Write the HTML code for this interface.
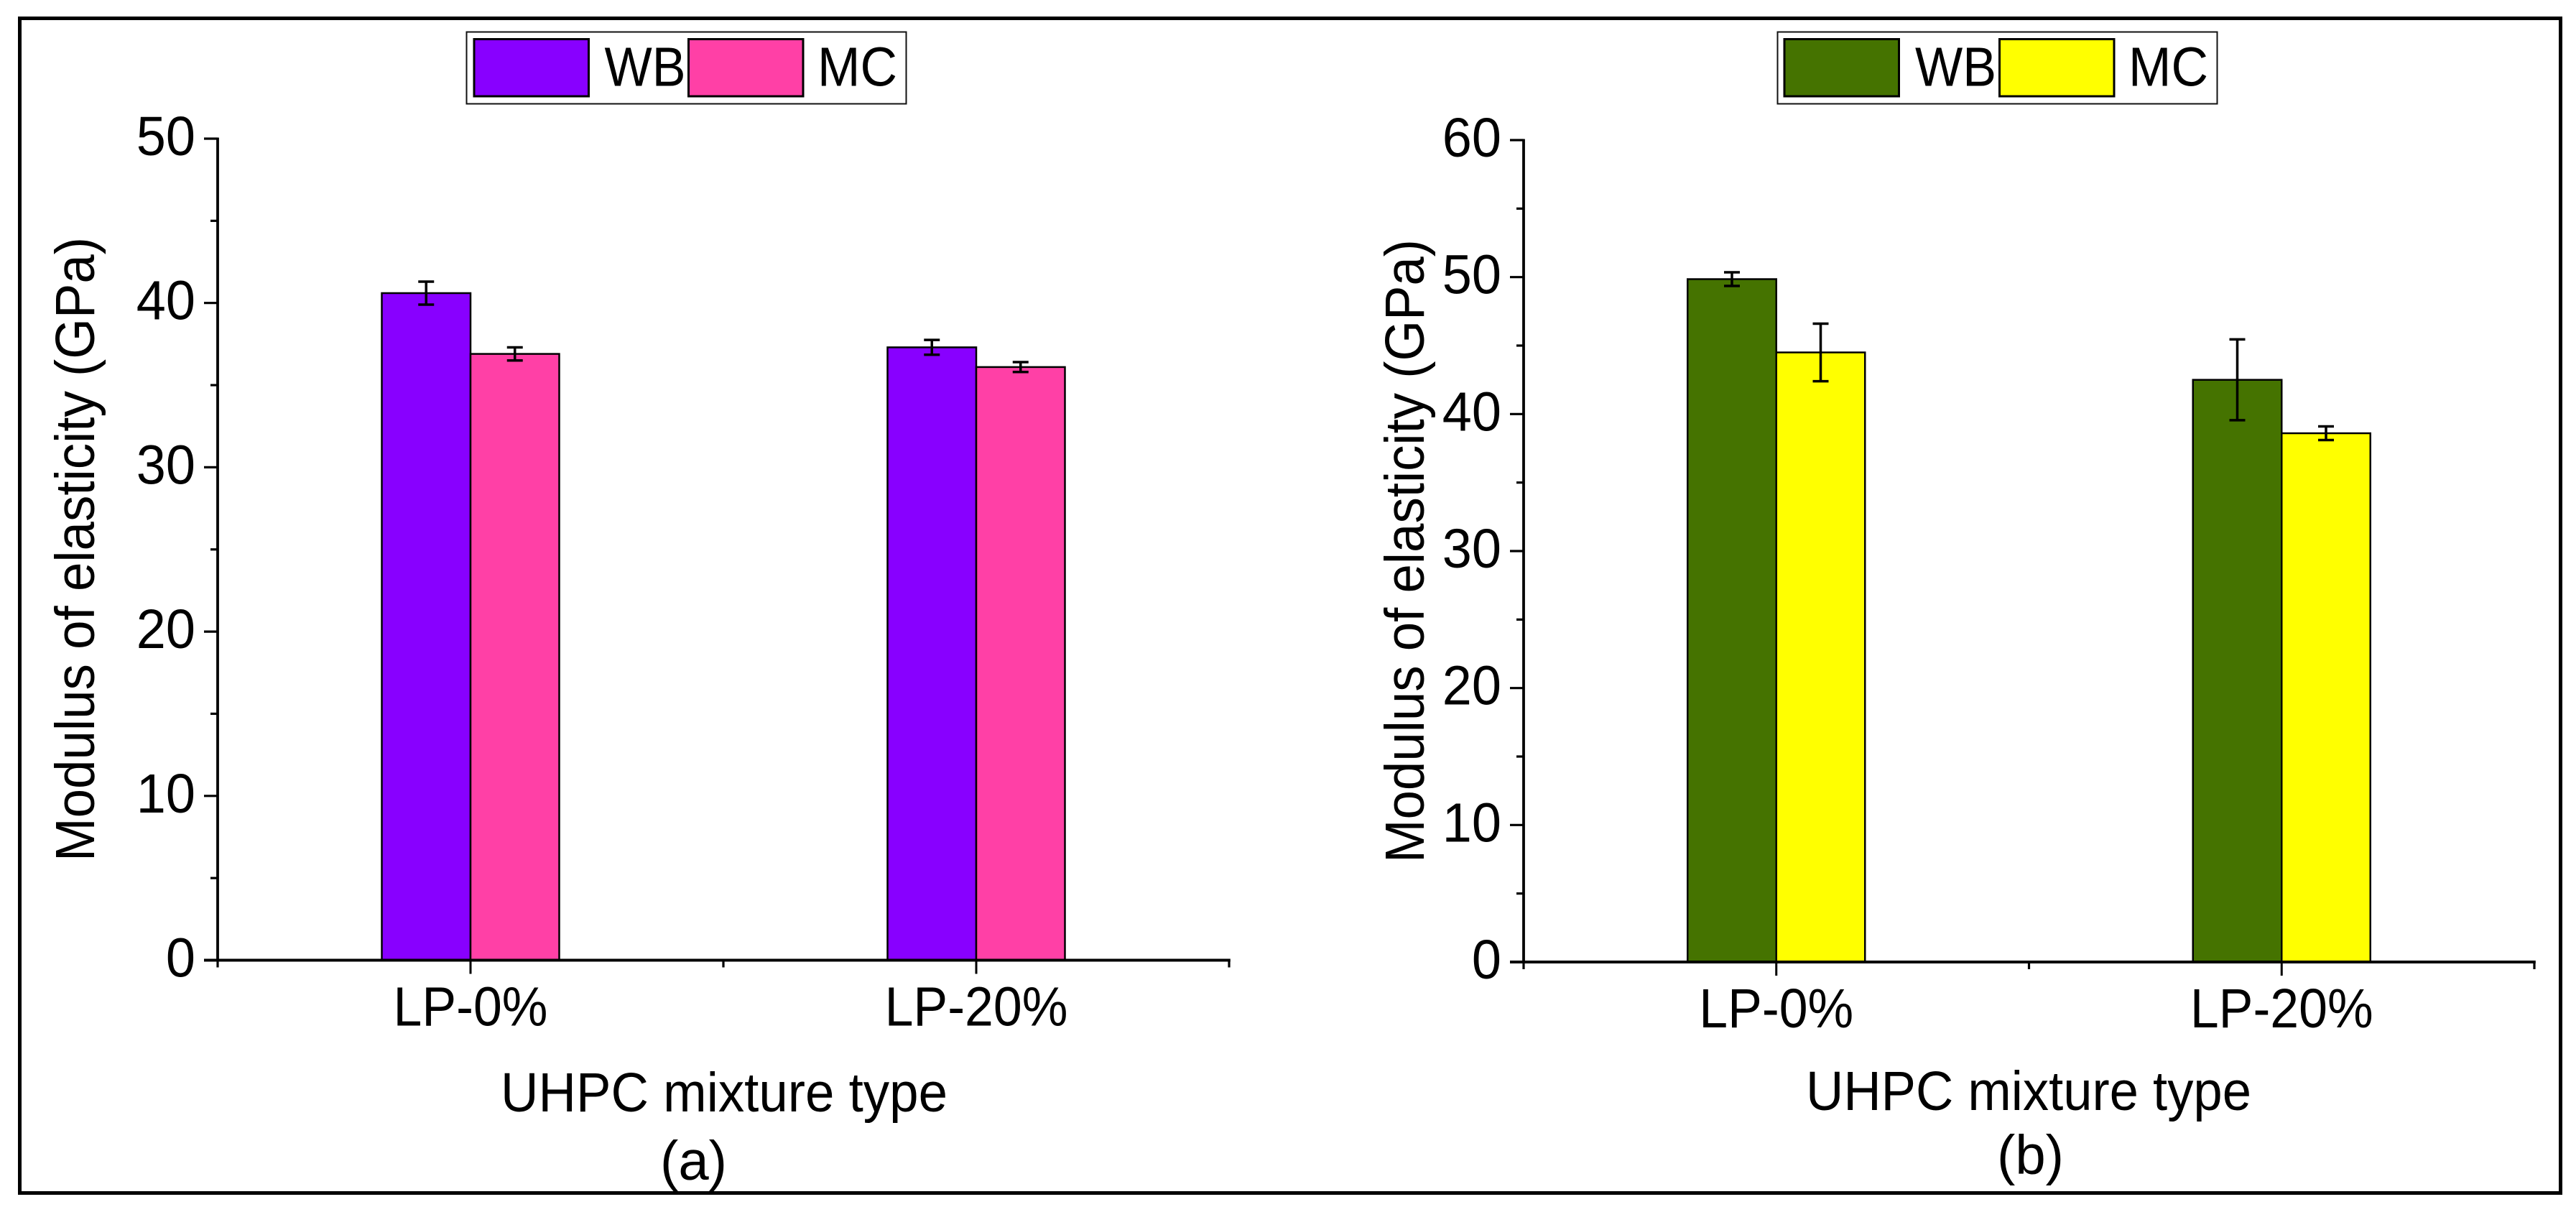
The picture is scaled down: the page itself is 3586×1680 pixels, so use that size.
<!DOCTYPE html>
<html lang="en">
<head>
<meta charset="utf-8">
<title>Modulus of elasticity of UHPC mixtures</title>
<style>
html,body{margin:0;padding:0;background:#fff;width:3586px;height:1680px;overflow:hidden}
svg{display:block}
text{font-family:"Liberation Sans",sans-serif;font-size:77px;fill:#000}
</style>
</head>
<body>
<svg id="figure" xmlns="http://www.w3.org/2000/svg" width="3586" height="1680" viewBox="0 0 3586 1680">
  <rect x="0" y="0" width="3586" height="1680" fill="#fff"/>
  <rect x="27.5" y="25.5" width="3537" height="1635" fill="none" stroke="#000" stroke-width="5"/>

  <g id="panel-a"></g>
  <g id="panel-b"></g>

  <g>
    <rect x="649.5" y="44.5" width="612" height="100" fill="#fff" stroke="#111" stroke-width="2"/>
    <rect x="660" y="54.5" width="159.5" height="79.5" fill="#8800ff" stroke="#000" stroke-width="3"/>
    <text x="841.5" y="119.5" textLength="113" lengthAdjust="spacingAndGlyphs">WB</text>
    <rect x="958.5" y="54.5" width="159.5" height="79.5" fill="#ff40a6" stroke="#000" stroke-width="3"/>
    <text x="1138" y="119.5" textLength="111" lengthAdjust="spacingAndGlyphs">MC</text>
  </g>
  <g>
    <rect x="2474.5" y="44.5" width="612" height="100" fill="#fff" stroke="#111" stroke-width="2"/>
    <rect x="2484" y="54.5" width="159.5" height="79.5" fill="#457300" stroke="#000" stroke-width="3"/>
    <text x="2666" y="119.5" textLength="113" lengthAdjust="spacingAndGlyphs">WB</text>
    <rect x="2783.5" y="54.5" width="159.5" height="79.5" fill="#ffff00" stroke="#000" stroke-width="3"/>
    <text x="2963" y="119.5" textLength="111" lengthAdjust="spacingAndGlyphs">MC</text>
  </g>

  <text transform="translate(131 1199) rotate(-90)" textLength="869" lengthAdjust="spacingAndGlyphs">Modulus of elasticity (GPa)</text>
  <text transform="translate(1982 1201) rotate(-90)" textLength="868" lengthAdjust="spacingAndGlyphs">Modulus of elasticity (GPa)</text>
  <text x="697" y="1547" textLength="622" lengthAdjust="spacingAndGlyphs">UHPC mixture type</text>
  <text x="2514" y="1545" textLength="620" lengthAdjust="spacingAndGlyphs">UHPC mixture type</text>
  <text x="919" y="1642" textLength="93" lengthAdjust="spacingAndGlyphs">(a)</text>
  <text x="2780" y="1634" textLength="93" lengthAdjust="spacingAndGlyphs">(b)</text>
</svg>

<script>
const categories = ['LP-0%', 'LP-20%'];

const wbValuesA = [40.6, 37.3];
const mcValuesA = [36.9, 36.1];
const wbErrorsA = [0.7, 0.45];
const mcErrorsA = [0.4, 0.3];
const yTicksA = [0, 10, 20, 30, 40, 50];
const yMinorTicksA = [5, 15, 25, 35, 45];

const wbValuesB = [49.85, 42.5];
const mcValuesB = [44.5, 38.6];
const wbErrorsB = [0.5, 2.95];
const mcErrorsB = [2.1, 0.5];
const yTicksB = [0, 10, 20, 30, 40, 50, 60];
const yMinorTicksB = [5, 15, 25, 35, 45, 55];

const SVG_NS = 'http://www.w3.org/2000/svg';

function makeEl(parent, tag, attrs) {
  const el = document.createElementNS(SVG_NS, tag);
  for (const k in attrs) el.setAttribute(k, attrs[k]);
  parent.appendChild(el);
  return el;
}

function squeeze(textEl, factor) {
  const w = textEl.getComputedTextLength();
  textEl.setAttribute('textLength', (w * factor).toFixed(1));
  textEl.setAttribute('lengthAdjust', 'spacingAndGlyphs');
}

function drawPanel(cfg) {
  const root = document.getElementById(cfg.id);
  const yMax = cfg.yTicks[cfg.yTicks.length - 1];
  const yScale = v => cfg.y0 + (cfg.yTop - cfg.y0) * v / yMax;
  const xSlot = cfg.width / categories.length;
  const xCenter = i => cfg.x0 + xSlot * (i + 0.5);
  const barW = 123.5;

  // bars and error bars
  [cfg.wb, cfg.mc].forEach((series, s) => {
    series.values.forEach((v, i) => {
      const left = xCenter(i) + (s === 0 ? -barW : 0);
      const top = yScale(v);
      const bar = makeEl(root, 'rect', {
        x: left, y: top, width: barW, height: cfg.y0 - top,
        fill: series.color, stroke: '#000', 'stroke-width': 2.5
      });
      
      
    });
  });
  [cfg.wb, cfg.mc].forEach((series, s) => {
    series.values.forEach((v, i) => {
      const cx = xCenter(i) + (s === 0 ? -barW / 2 : barW / 2);
      const hi = yScale(v + series.errors[i]);
      const lo = yScale(v - series.errors[i]);
      const err = makeEl(root, 'path', {
        d: 'M' + cx + ' ' + hi + 'V' + lo + 'M' + (cx - 11) + ' ' + hi + 'H' + (cx + 11) + 'M' + (cx - 11) + ' ' + lo + 'H' + (cx + 11),
        fill: 'none', stroke: '#000', 'stroke-width': 3.5
      });
      
      
    });
  });

  // y axis
  const yAxis = makeEl(root, 'line', {
    x1: cfg.x0, x2: cfg.x0, y1: cfg.yTop - 1.5, y2: cfg.y0, stroke: '#000', 'stroke-width': 3.8
  });
  
  

  cfg.yTicks.forEach(v => {
    const tick = makeEl(root, 'line', {
      x1: cfg.x0 - 19, x2: cfg.x0, y1: yScale(v), y2: yScale(v), stroke: '#000', 'stroke-width': 3.2
    });
    
    
    const label = makeEl(root, 'text', {
      x: cfg.x0 - 31, y: yScale(v) + 23, 'text-anchor': 'end'
    });
    label.textContent = String(v);
    
    
    squeeze(label, 0.96);
  });
  cfg.yMinor.forEach(v => {
    const tick = makeEl(root, 'line', {
      x1: cfg.x0 - 10, x2: cfg.x0, y1: yScale(v), y2: yScale(v), stroke: '#000', 'stroke-width': 3.2
    });
    
    
  });

  // x axis
  const xAxis = makeEl(root, 'line', {
    x1: cfg.x0 - 19, x2: cfg.x0 + cfg.width + 1.8, y1: cfg.y0, y2: cfg.y0, stroke: '#000', 'stroke-width': 4
  });
  
  

  categories.forEach((c, i) => {
    const tick = makeEl(root, 'line', {
      x1: xCenter(i), x2: xCenter(i), y1: cfg.y0, y2: cfg.y0 + 19, stroke: '#000', 'stroke-width': 3
    });
    
    
    const label = makeEl(root, 'text', {
      x: xCenter(i), y: cfg.y0 + 91, 'text-anchor': 'middle'
    });
    label.textContent = c;
    
    
    squeeze(label, 0.93);
  });
  for (let i = 0; i <= categories.length; i++) {
    const mx = cfg.x0 + xSlot * i;
    const tick = makeEl(root, 'line', {
      x1: mx, x2: mx, y1: cfg.y0, y2: cfg.y0 + 10, stroke: '#000', 'stroke-width': 3.2
    });
    
    
  }
}

drawPanel({
  id: 'panel-a', x0: 303, width: 1408, y0: 1336.5, yTop: 193,
  yTicks: yTicksA, yMinor: yMinorTicksA,
  wb: { key: 'wb', color: '#8800ff', values: wbValuesA, errors: wbErrorsA },
  mc: { key: 'mc', color: '#ff40a6', values: mcValuesA, errors: mcErrorsA }
});
drawPanel({
  id: 'panel-b', x0: 2121, width: 1407, y0: 1339, yTop: 195,
  yTicks: yTicksB, yMinor: yMinorTicksB,
  wb: { key: 'wb', color: '#457300', values: wbValuesB, errors: wbErrorsB },
  mc: { key: 'mc', color: '#ffff00', values: mcValuesB, errors: mcErrorsB }
});
</script>
</body>
</html>
